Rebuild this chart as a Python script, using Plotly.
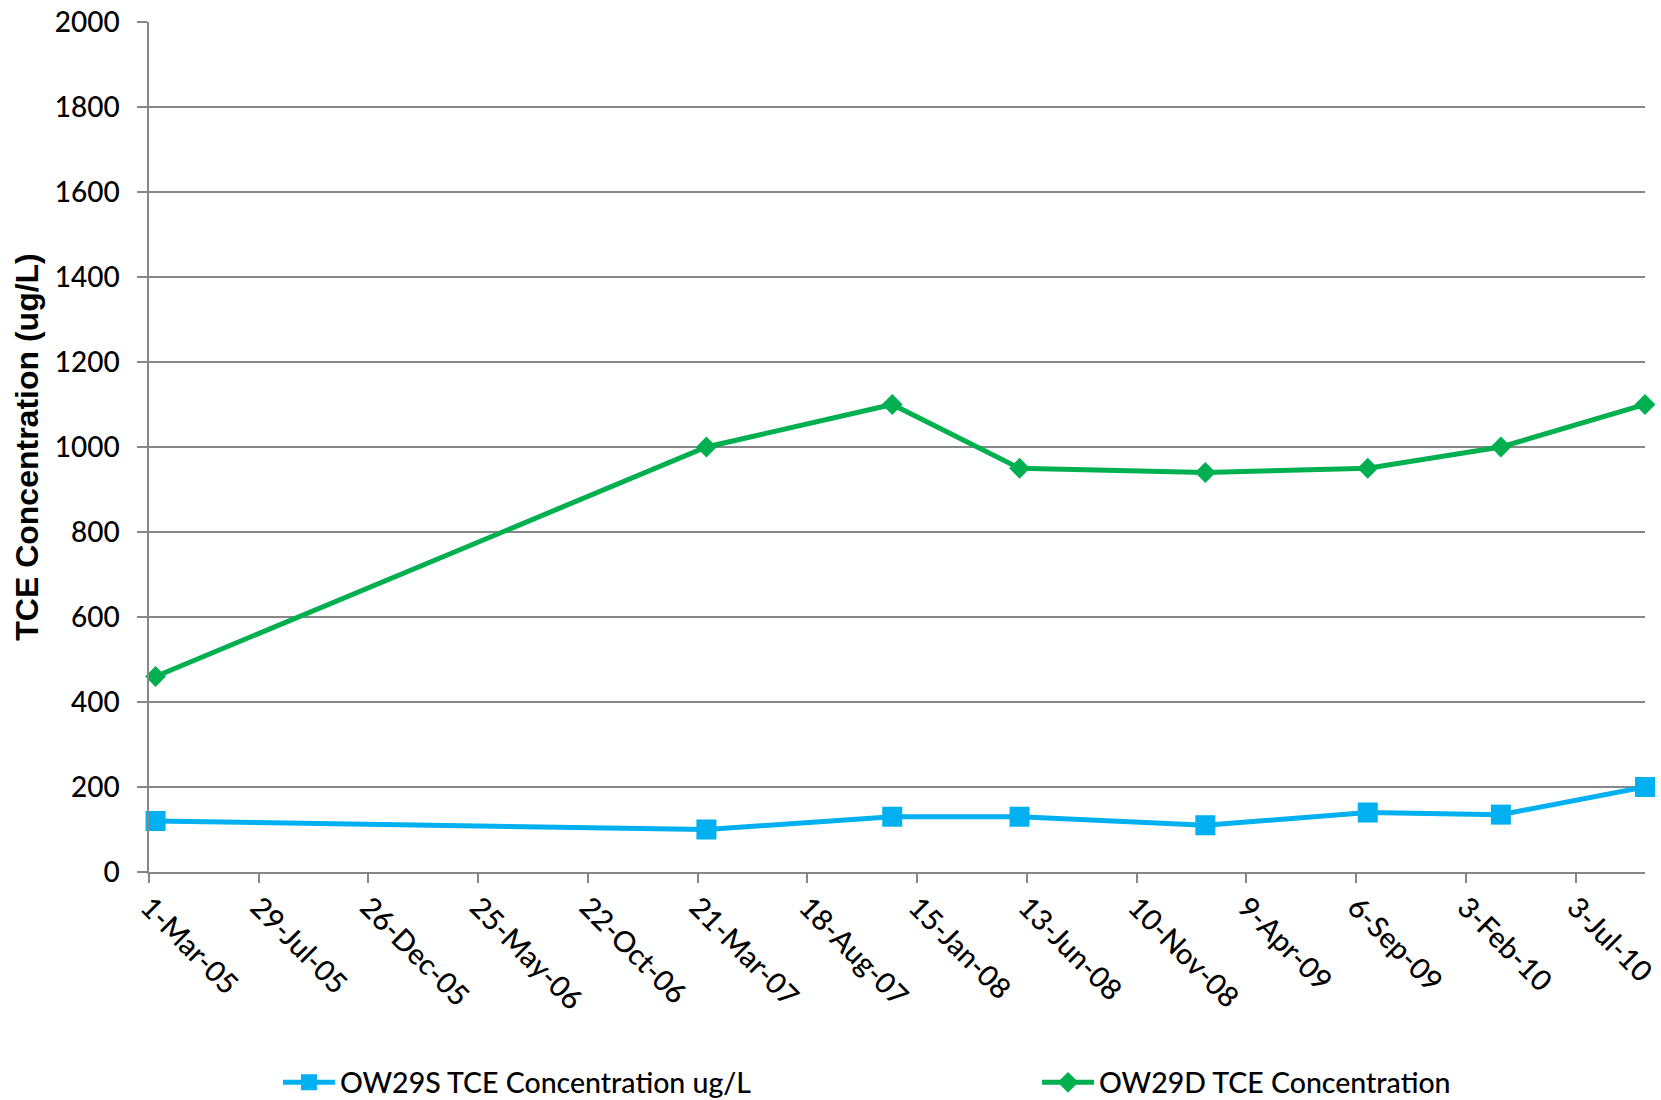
import plotly.graph_objects as go

# Sampling dates and TCE concentrations (ug/L) for the two wells
sample_dates = ["2005-03-10", "2007-04-02", "2007-12-12", "2008-06-03",
                "2009-02-12", "2009-09-22", "2010-03-23", "2010-10-06"]
ow29s_tce = [120, 100, 130, 130, 110, 140, 135, 200]
ow29d_tce = [460, 1000, 1100, 950, 940, 950, 1000, 1100]

series_names = ["OW29S TCE Concentration ug/L", "OW29D TCE Concentration"]
y_title = "TCE Concentration (ug/L)"

BLUE = "#00B0F0"
GREEN = "#00B050"
GRID = "#878787"
LABEL_FONT = "Lato, 'Open Sans', sans-serif"

fig = go.Figure()
fig.add_trace(go.Scatter(
    x=sample_dates, y=ow29s_tce, name=series_names[0],
    mode="lines+markers",
    line=dict(color=BLUE, width=5),
    marker=dict(symbol="square", size=20, color=BLUE),
    cliponaxis=False, legend="legend",
))
fig.add_trace(go.Scatter(
    x=sample_dates, y=ow29d_tce, name=series_names[1],
    mode="lines+markers",
    line=dict(color=GREEN, width=5),
    marker=dict(symbol="diamond", size=16, color=GREEN),
    cliponaxis=False, legend="legend2",
))

legend_style = dict(
    orientation="h", xanchor="left", y=-0.248, yanchor="middle",
    font=dict(family=LABEL_FONT, size=28.5, color="black", weight=500),
    itemwidth=52, bgcolor="rgba(0,0,0,0)",
)

fig.update_layout(
    width=1661, height=1100,
    margin=dict(l=149, r=16, t=22, b=228, autoexpand=False),
    paper_bgcolor="white", plot_bgcolor="white",
    font=dict(family=LABEL_FONT, size=28, color="black"),
    showlegend=True,
    legend=dict(x=0.0862, **legend_style),
    legend2=dict(x=0.5936, **legend_style),
)

fig.update_xaxes(
    type="date",
    range=["2005-03-01", "2010-10-06"],
    tick0="2005-03-01", dtick=150 * 86400000,
    tickformat="%-d-%b-%y",
    tickangle=45,
    ticks="outside", ticklen=9, tickwidth=1.5, tickcolor=GRID,
    ticklabelstandoff=-4, ticklabeloverflow="allow",
    showline=True, linecolor=GRID, linewidth=1.5,
    showgrid=False, zeroline=False, automargin=False,
    tickfont=dict(family=LABEL_FONT, size=29, color="black", weight=500),
)

fig.update_yaxes(
    range=[0, 2000], tick0=0, dtick=200,
    ticks="outside", ticklen=10, tickwidth=1.5, tickcolor=GRID,
    ticklabelstandoff=12,
    showline=True, linecolor=GRID, linewidth=1.5,
    showgrid=True, gridcolor=GRID, gridwidth=1.5,
    zeroline=False, automargin=False,
    tickfont=dict(family=LABEL_FONT, size=28, color="black", weight=500),
    title=dict(text=y_title, standoff=6,
               font=dict(family="'Liberation Sans', Arial, sans-serif",
                         size=32, color="black", weight="bold")),
)

fig.write_html("out.html")
